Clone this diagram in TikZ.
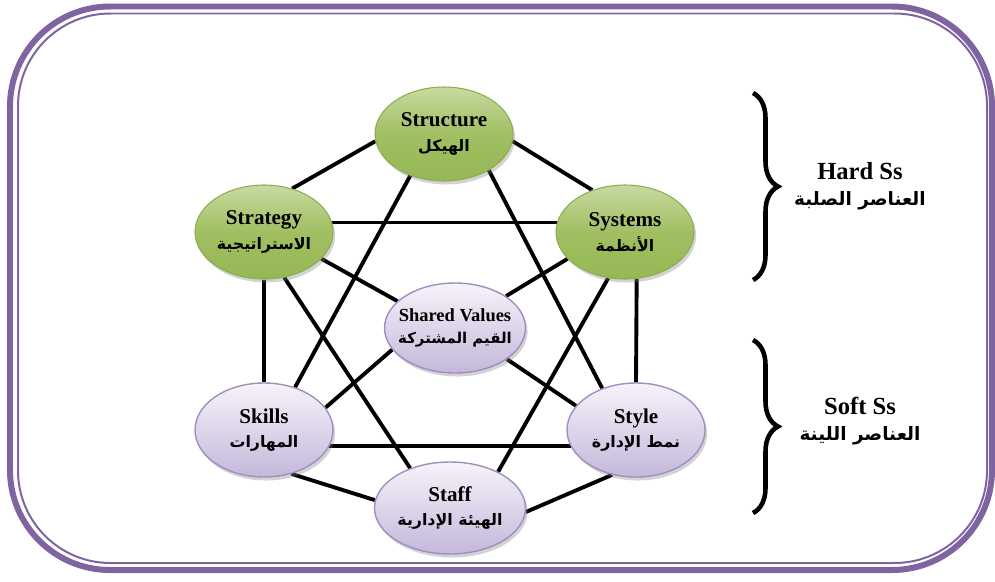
\documentclass[tikz,border=0pt]{standalone}
\usepackage{fontspec}
\setmainfont{Liberation Serif}
\newfontfamily\arabicfont[Script=Arabic]{DejaVu Sans}
\TeXXeTstate=1
\usepackage{tikz}
\usetikzlibrary{shapes.geometric, shadows, backgrounds, decorations.pathreplacing}

\definecolor{borderPurple}{RGB}{128,100,162}
\definecolor{hardTop}{RGB}{200,218,160}
\definecolor{hardMid}{RGB}{160,191,98}
\definecolor{hardBot}{RGB}{150,184,84}
\definecolor{hardLine}{RGB}{140,172,80}
\definecolor{softTop}{RGB}{246,243,250}
\definecolor{softBot}{RGB}{196,184,218}
\definecolor{softLine}{RGB}{160,142,192}

\newcommand{\arab}[1]{{\arabicfont\beginR #1\endR}}

\tikzset{
    elem/.style={ellipse, minimum width=2.76cm, minimum height=1.88cm, inner sep=0pt, align=center,
        font=\fontsize{12}{14}\selectfont\bfseries,
        drop shadow={shadow xshift=1.2pt, shadow yshift=-2pt, opacity=0.35}},
    hard/.style={elem, draw=hardLine, line width=0.6pt, top color=hardTop, bottom color=hardBot, middle color=hardMid},
    soft/.style={elem, draw=softLine, line width=0.8pt, top color=softTop, bottom color=softBot},
    conn/.style={line width=2.2pt, black},
    groupBrace/.style={decorate, decoration={brace, amplitude=0.5cm}, line width=2.6pt},
    groupLabel/.style={align=center, font=\fontsize{14}{15}\selectfont\bfseries}
}

\begin{document}
\begin{tikzpicture}
    \useasboundingbox (0,0) rectangle (19.9,11.62);

    % double frame
    \draw[draw=borderPurple, line width=0.12cm, rounded corners=2cm] (0.2,0.22) rectangle (19.84,11.49);
    \draw[draw=borderPurple, line width=0.04cm, rounded corners=1.85cm] (0.36,0.36) rectangle (19.74,11.35);

    % hard elements
    \node[hard] (struct) at (8.88,8.94) {Structure\\\arab{\fontsize{9}{11}\selectfont الهيكل}};
    \node[hard] (strat) at (5.28,6.98) {Strategy\\\arab{\fontsize{9}{11}\selectfont الاستراتيجية}};
    \node[hard] (sys) at (12.5,6.98) {Systems\\\arab{\fontsize{9}{11}\selectfont الأنظمة}};

    % soft elements
    \node[soft, minimum width=2.82cm, minimum height=1.8cm, inner xsep=-0.16cm, font=\fontsize{10.5}{12.5}\selectfont\bfseries] (shared) at (9.1,5.06) {Shared Values\\\arab{\fontsize{8.5}{10}\selectfont القيم المشتركة}};
    \node[soft] (skills) at (5.28,3.02) {Skills\\\arab{\fontsize{9}{11}\selectfont المهارات}};
    \node[soft] (style) at (12.72,3.02) {Style\\\arab{\fontsize{9}{11}\selectfont نمط الإدارة}};
    \node[soft, minimum width=3.02cm, minimum height=1.84cm] (staff) at (9.0,1.46) {Staff\\\arab{\fontsize{9}{11}\selectfont الهيئة الإدارية}};

    % connections
    \begin{scope}[on background layer]
        \draw[conn] (struct.186) -- (strat.57);
        \draw[conn] (struct.354) -- (sys.128);
        \draw[conn] (struct.231) -- (skills.54);
        \draw[conn] (struct.321) -- (style.129);
        \draw[conn] (strat.8) -- (sys.172);
        \draw[conn] (strat.335) -- (shared.155);
        \draw[conn] (strat.294) -- (staff.135);
        \draw[conn] (strat.270) -- (skills.90);
        \draw[conn] (sys.205) -- (shared.32);
        \draw[conn] (sys.250) -- (staff.37);
        \draw[conn] (sys.284) -- (style.90);
        \draw[conn] (shared.199) -- (skills.20);
        \draw[conn] (shared.329) -- (style.158);
        \draw[conn] (skills.346) -- (style.194);
        \draw[conn] (skills.302) -- (staff.174);
        \draw[conn] (style.242) -- (staff.357);
    \end{scope}

    % groups
    \draw[groupBrace] (15.06,9.76) -- (15.06,6.02);
    \draw[groupBrace] (15.06,4.82) -- (15.06,1.36);
    \node[groupLabel] (hardS) at (17.2,7.9) {Hard Ss\\\arab{\fontsize{10.5}{12}\selectfont العناصر الصلبة}};
    \node[groupLabel] (softS) at (17.2,3.2) {Soft Ss\\\arab{\fontsize{10.5}{12}\selectfont العناصر اللينة}};
\end{tikzpicture}
\end{document}
